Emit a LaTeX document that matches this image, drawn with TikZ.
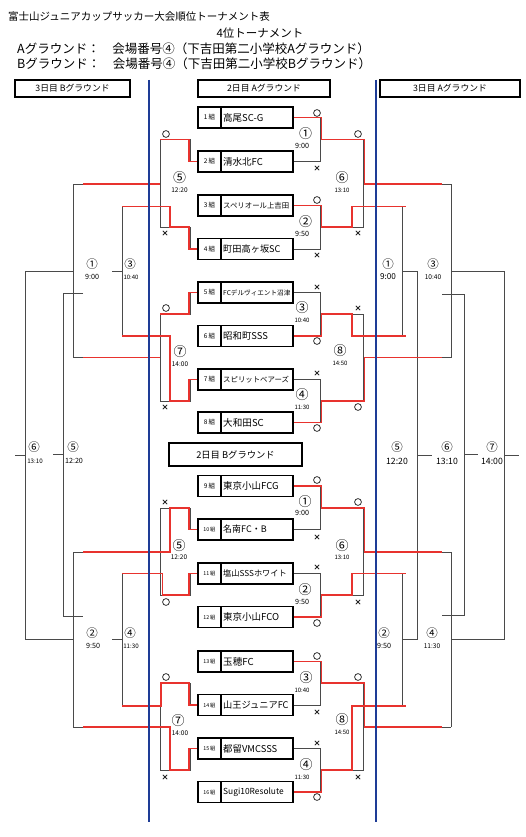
\documentclass[tikz,border=0pt]{standalone}
\usepackage{fontspec}
\setmainfont{Noto Sans CJK JP}
\definecolor{lineg}{HTML}{4A4A4A}
\definecolor{redl}{HTML}{E8332E}
\definecolor{bluel}{HTML}{1E3C96}
\newcommand{\fsz}[1]{\fontsize{#1}{#1}\selectfont}
\newcommand{\om}[2]{\draw[line width=0.8pt, black!80] (#1,#2) circle (3.4pt);}
\newcommand{\xm}[2]{\draw[line width=0.75pt, black!85] (#1-2.2,#2-2.2)--(#1+2.2,#2+2.2) (#1-2.2,#2+2.2)--(#1+2.2,#2-2.2);}
\tikzset{
 gl/.style={draw=lineg, line width=0.9pt},
 rl/.style={draw=redl, line width=1.9pt},
 bl/.style={draw=bluel, line width=2.3pt},
 tbox/.style={draw=black, fill=white, line width=1.6pt},
 hbox/.style={draw=black, fill=white, line width=1.3pt, inner sep=0, font=\fsz{8.8}},
 cn/.style={font=\fsz{13}, inner sep=0},
 cs/.style={font=\fsz{11.5}, inner sep=0},
 tm/.style={font=\fsz{6.5}, inner sep=0},
}
\begin{document}
\begin{tikzpicture}[x=1pt,y=-1pt]
\useasboundingbox (0,0) rectangle (526,837);
\fill[white] (0,0) rectangle (526,837);

% titles
\node[anchor=west, inner sep=0, font=\fsz{10.5}] (title) at (8,17) {富士山ジュニアカップサッカー大会順位トーナメント表};
\node[inner sep=0, font=\fsz{11.5}] (sub) at (260,33) {4位トーナメント};
\node[anchor=west, inner sep=0, font=\fsz{12.5}] (ga) at (17,49) {Aグラウンド：　会場番号④（下吉田第二小学校Aグラウンド）};
\node[anchor=west, inner sep=0, font=\fsz{12.5}] (gb) at (17,64) {Bグラウンド：　会場番号④（下吉田第二小学校Bグラウンド）};

% ---------- gray bracket lines, central section ----------
\foreach \ya/\yb/\yc/\yd/\mA/\mB/\M/\L/\p/\q/\Ls in
 {117.5/161.5/205.5/249/139.5/227/184/206.5/161.5/249/170,
  292.5/336/379.5/422.5/314/401/357.5/336/292.5/379.5/170,
  486/529.5/573.5/617/508/595/552/573.5/529.5/573.5/162.5,
  661.5/705/748.5/792/683/770/727/706/705/748.5/161}{
  \draw[gl] (293,\ya)--(320,\ya)--(320,\yb)--(293,\yb);
  \draw[gl] (293,\yc)--(320,\yc)--(320,\yd)--(293,\yd);
  \draw[gl] (320,\mA)--(363,\mA)--(363,\mB)--(320,\mB);
  \draw[gl] (363,\M)--(451,\M);
  \draw[gl] (352,\L)--(402,\L);
  \draw[gl] (198,\p)--(190,\p)--(190,\mA)--(160,\mA)--(160,\mB)--(190,\mB)--(190,\q)--(198,\q);
  \draw[gl] (160,\M)--(73,\M);
  \draw[gl] (\Ls,\L)--(122,\L);
}

% ---------- 3rd day B (left) ----------
\draw[gl] (73,184)--(73,357.5);
\draw[gl] (122,206.5)--(122,336);
\draw[gl] (73,552)--(73,727);
\draw[gl] (122,573.5)--(122,706);
\draw[gl] (73,271)--(25,271)--(25,639.5)--(73,639.5);
\draw[gl] (122,271)--(112,271);
\draw[gl] (122,639.5)--(112,639.5);
\draw[gl] (25,455)--(15,455);
\draw[gl] (83,293)--(63,293)--(63,616)--(83,616);
\draw[gl] (63,454.5)--(53,454.5);

% ---------- 3rd day A (right) ----------
\draw[gl] (402,206.5)--(402,336);
\draw[gl] (451,184)--(451,357.5);
\draw[gl] (402,573.5)--(402,706);
\draw[gl] (451,552)--(451,727);
\draw[gl] (402,271)--(417,271)--(417,639.5)--(402,639.5);
\draw[gl] (417,455)--(432,455);
\draw[gl] (451,271)--(504,271)--(504,639.5)--(451,639.5);
\draw[gl] (504,455)--(519,455);
\draw[gl] (442,294)--(464,294)--(464,615)--(442,615);
\draw[gl] (464,454.5)--(478,454.5);

% ---------- red result lines ----------
% block A
\draw[rl] (293,117.5)--(321.5,117.5)--(321.5,139.5)--(364.5,139.5)--(364.5,184)--(442,184);
\draw[rl] (293,205.5)--(321.5,205.5)--(321.5,227)--(352,227)--(352,206.5)--(406,206.5);
\draw[rl] (198,161.5)--(189,161.5)--(189,139.5)--(160,139.5);
\draw[rl] (160,184)--(83,184);
\draw[rl] (198,249)--(189,249)--(189,227)--(170,227)--(170,206.5)--(122,206.5);
% block B
\draw[rl] (293,336)--(321.5,336)--(321.5,314)--(352,314)--(352,336)--(406,336);
\draw[rl] (293,422.5)--(321.5,422.5)--(321.5,401)--(364.5,401)--(364.5,357.5)--(442,357.5);
\draw[rl] (198,292.5)--(189,292.5)--(189,314)--(160,314);
\draw[rl] (160,357.5)--(83,357.5);
\draw[rl] (198,379.5)--(189,379.5)--(189,401)--(170,401)--(170,336)--(122,336);
% block C
\draw[rl] (293,486)--(321.5,486)--(321.5,508)--(364.5,508)--(364.5,552)--(442,552);
\draw[rl] (293,617)--(321.5,617)--(321.5,595)--(352,595)--(352,573.5)--(406,573.5);
\draw[rl] (198,529.5)--(189,529.5)--(189,508)--(170,508)--(170,552)--(83,552);
\draw[rl] (198,573.5)--(189,573.5)--(189,595)--(162.5,595)--(162.5,573.5)--(122,573.5);
% block D
\draw[rl] (293,661.5)--(321.5,661.5)--(321.5,683)--(364.5,683)--(364.5,727)--(442,727);
\draw[rl] (293,792)--(321.5,792)--(321.5,770)--(352,770)--(352,706)--(406,706);
\draw[rl] (198,705)--(189,705)--(189,683)--(161,683)--(161,706)--(122,706);
\draw[rl] (198,748.5)--(189,748.5)--(189,770)--(170,770)--(170,727)--(83,727);

% ---------- blue separators ----------
\draw[bl] (149,80)--(149,822);
\draw[bl] (376,80)--(376,822);

% ---------- header boxes ----------
\node[hbox, minimum width=115pt, minimum height=17pt] (h1) at (72.5,88.5) {3日目 Bグラウンド};
\node[hbox, minimum width=132pt, minimum height=17pt] (h2) at (264,88.5) {2日目 Aグラウンド};
\node[hbox, minimum width=140pt, minimum height=17pt] (h3) at (450,88.5) {3日目 Aグラウンド};
\node[hbox, minimum width=133pt, minimum height=23pt, font=\fsz{9.3}] (h4) at (235.5,454.5) {2日目 Bグラウンド};

% ---------- team boxes ----------
\foreach \n/\y/\nm/\fs in
 {1/117.5/高尾SC-G/9.5, 2/161.5/清水北FC/9.5, 3/205.5/スペリオール上吉田/7.4, 4/249/町田高ヶ坂SC/9.2,
  5/292.5/FCデルヴィエント沼津/6.6, 6/336/昭和町SSS/9.4, 7/379.5/スピリットベアーズ/7.4, 8/422.5/大和田SC/9.6,
  9/486/東京小山FCG/9.5, 10/529.5/名南FC・B/9, 11/573.5/塩山SSSホワイト/8.2, 12/617/東京小山FCO/9.5,
  13/661.5/玉穂FC/9.6, 14/705/山王ジュニアFC/9.2, 15/748.5/都留VMCSSS/9.4, 16/792/Sugi10Resolute/8.4}{
  \draw[tbox] (198,\y-10.5) rectangle (293,\y+10.5);
  \draw[line width=1.3pt] (221,\y-10.5)--(221,\y+10.5);
  \ifnum\n<10
    \node[inner sep=0, font=\fsz{6.5}] (k\n) at (209.5,\y) {\n\,組};
  \else
    \node[inner sep=0, font=\fsz{5.3}] (k\n) at (209.5,\y) {\n\,組};
  \fi
  \node[anchor=west, inner sep=0, font=\fsz{\fs}] (t\n) at (223,\y) {\nm};
}

% ---------- match labels, central ----------
\node[cn] (a1) at (305.5,134) {①}; \node[tm, font=\fsz{7.2}] (a1t) at (302,146) {9:00};
\node[cn] (a2) at (305.5,222) {②}; \node[tm, font=\fsz{7.2}] (a2t) at (302,233.5) {9:50};
\node[cn] (a6) at (342,178) {⑥}; \node[tm, font=\fsz{6}] (a6t) at (342,190) {13:10};
\node[cn] (a5) at (179.5,178) {⑤}; \node[tm] (a5t) at (179.5,190) {12:20};
\node[cn] (b3) at (302,308) {③}; \node[tm, font=\fsz{6}] (b3t) at (302,320) {10:40};
\node[cn] (b4) at (302,395) {④}; \node[tm, font=\fsz{6}] (b4t) at (302,407) {11:30};
\node[cn] (b8) at (340,351) {⑧}; \node[tm, font=\fsz{6}] (b8t) at (340,363) {14:50};
\node[cn] (b7) at (180,352) {⑦}; \node[tm] (b7t) at (180,364) {14:00};
\node[cn] (c1) at (305,502) {①}; \node[tm, font=\fsz{7.2}] (c1t) at (302,513) {9:00};
\node[cn] (c2) at (305,590) {②}; \node[tm, font=\fsz{7.2}] (c2t) at (302,602) {9:50};
\node[cn] (c6) at (342,546) {⑥}; \node[tm, font=\fsz{6}] (c6t) at (342,557) {13:10};
\node[cn] (c5) at (179,546) {⑤}; \node[tm] (c5t) at (179,557) {12:20};
\node[cn] (d3) at (306,678) {③}; \node[tm, font=\fsz{6}] (d3t) at (302,690) {10:40};
\node[cn] (d4) at (306,765) {④}; \node[tm, font=\fsz{6}] (d4t) at (302,777) {11:30};
\node[cn] (d8) at (342,720) {⑧}; \node[tm, font=\fsz{6}] (d8t) at (342,732) {14:50};
\node[cn] (d7) at (178,721) {⑦}; \node[tm] (d7t) at (180,733) {14:00};

% ---------- match labels, left ----------
\node[cs] (l1) at (92,264) {①}; \node[tm, font=\fsz{7.2}] (l1t) at (92,277) {9:00};
\node[cs] (l3) at (130,264) {③}; \node[tm, font=\fsz{6}] (l3t) at (131,277) {10:40};
\node[cs] (l2) at (92,633) {②}; \node[tm, font=\fsz{7.2}] (l2t) at (93,646) {9:50};
\node[cs] (l4) at (130,633) {④}; \node[tm, font=\fsz{6.2}] (l4t) at (131,646) {11:30};
\node[cs] (l6) at (34,447) {⑥}; \node[tm, font=\fsz{6.2}] (l6t) at (35,461) {13:10};
\node[cs] (l5) at (73,447) {⑤}; \node[tm, font=\fsz{7.2}] (l5t) at (74,461) {12:20};

% ---------- match labels, right ----------
\node[cs] (r1) at (388,264) {①}; \node[tm, font=\fsz{8.2}] (r1t) at (388,277) {9:00};
\node[cs] (r3) at (433,264) {③}; \node[tm, font=\fsz{6.6}] (r3t) at (433,277) {10:40};
\node[cs] (r2) at (384,633) {②}; \node[tm, font=\fsz{7.2}] (r2t) at (384,646) {9:50};
\node[cs] (r4) at (432,633) {④}; \node[tm, font=\fsz{6.6}] (r4t) at (432,646) {11:30};
\node[cs] (r5) at (397,447) {⑤}; \node[tm, font=\fsz{8.7}] (r5t) at (397,461) {12:20};
\node[cs] (r6) at (447,447) {⑥}; \node[tm, font=\fsz{8.7}] (r6t) at (447,461) {13:10};
\node[cs] (r7) at (492,447) {⑦}; \node[tm, font=\fsz{8.7}] (r7t) at (492,461) {14:00};

% ---------- win / loss marks ----------
\om{317}{113} \xm{317}{168} \om{317}{200} \xm{317}{255}
\om{358}{134} \xm{358}{233} \om{166}{134} \xm{165}{233}
\xm{317}{287} \om{317}{341} \xm{317}{373} \om{317}{428}
\xm{358}{308} \om{358}{407} \om{166}{308} \xm{165}{407}
\om{317}{480} \xm{317}{537} \xm{317}{567} \om{317}{623}
\om{358}{502} \xm{358}{602} \xm{165}{502} \om{166}{602}
\om{317}{656} \xm{317}{712} \xm{317}{743} \om{317}{797}
\om{358}{677} \xm{358}{777} \om{166}{677} \xm{165}{777}
\end{tikzpicture}
\end{document}
